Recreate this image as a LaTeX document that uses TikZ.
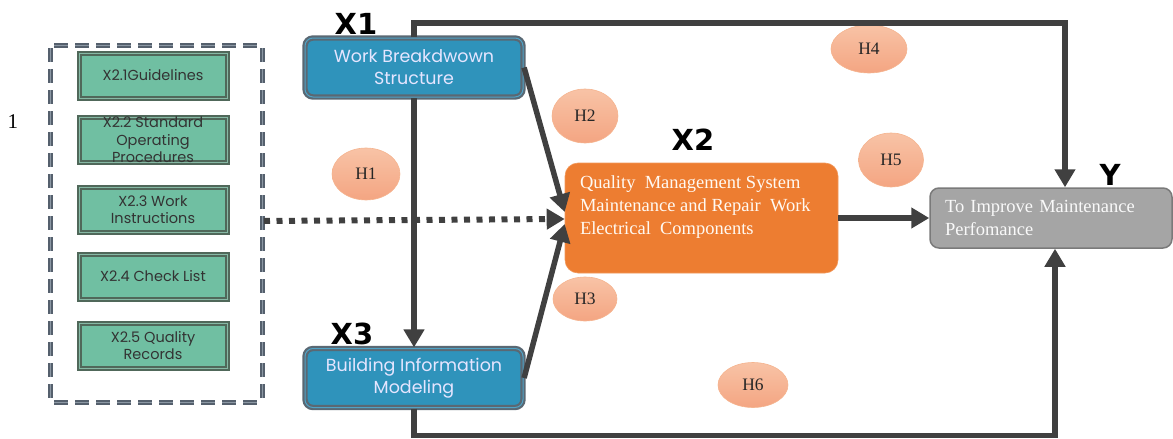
\documentclass[tikz,border=0pt]{standalone}
\usepackage{fontspec}
\setmainfont{Liberation Serif}
\newfontfamily\gothic{Poppins}
\newfontfamily\heavy{DejaVu Sans}
\usetikzlibrary{arrows.meta,calc,shapes.geometric}
\definecolor{grnfill}{HTML}{70BFA2}
\definecolor{grnborder}{HTML}{50685A}
\definecolor{grninner}{HTML}{86B9A5}
\definecolor{bluefill}{HTML}{2F93BB}
\definecolor{bluborder}{HTML}{5A6873}
\definecolor{blueinner}{HTML}{4FA3C6}
\definecolor{orangefill}{HTML}{ED7D31}
\definecolor{grayfill}{HTML}{A5A5A5}
\definecolor{grayborder}{HTML}{7A7A7A}
\definecolor{hyptop}{HTML}{F8C3A6}
\definecolor{hypbot}{HTML}{F4A582}
\definecolor{hypborder}{HTML}{F5B48F}
\definecolor{conncol}{HTML}{404040}
\definecolor{dashcol}{HTML}{55606D}
\definecolor{dashinner}{HTML}{8C98A4}
\begin{document}
\begin{tikzpicture}[x=1pt,y=-1pt,
  greenbox/.style={draw=grnborder, line width=2pt, double=grninner, double distance=1pt,
    fill=grnfill, minimum width=148pt, minimum height=45pt, inner sep=0pt, align=center,
    font=\gothic\fontsize{14.5}{17.5}\selectfont, text=black!80},
  bluebox/.style={draw=bluborder, line width=2.2pt, double=blueinner, double distance=1pt,
    fill=bluefill, rounded corners=8pt, minimum width=218pt, minimum height=59pt, inner sep=0pt,
    align=center, font=\gothic\fontsize{17.5}{22}\selectfont, text=white!90!blue},
  orangebox/.style={fill=orangefill, draw=orangefill!80!white, line width=0.6pt, rounded corners=13pt,
    inner xsep=15pt, inner ysep=7pt, text=white!95!orange, font=\fontsize{18.5}{23}\selectfont},
  graybox/.style={fill=grayfill, draw=grayborder, line width=1.5pt, rounded corners=9pt,
    minimum width=242pt, minimum height=60pt, inner xsep=15pt, text width=212pt, align=left,
    text=white!95!gray, font=\fontsize{18.5}{23}\selectfont},
  hyp/.style={ellipse, draw=hypborder, line width=0.6pt, top color=hyptop, bottom color=hypbot,
    inner sep=0pt, font=\fontsize{17.5}{18}\selectfont, text=black!85},
  tag/.style={font=\heavy\bfseries\fontsize{29}{29}\selectfont, inner sep=0pt},
  conn/.style={draw=conncol, line width=5.5pt, -{Triangle[length=18pt,width=20pt]}},
  dotconn/.style={draw=conncol, line width=6pt, dash pattern=on 6pt off 6.5pt,
    -{Triangle[length=18pt,width=20pt]}},
  dashbox/.style={draw=dashcol, line width=2pt, double=dashinner, double distance=1pt,
    dash pattern=on 14pt off 7pt, rounded corners=3pt}
]
\useasboundingbox (0,0) rectangle (1173,439);

% stray number
\node[font=\fontsize{21}{21}\selectfont, inner sep=0pt] (num) at (13,122) {1};

% dashed group
\draw[dashbox] (50,45) rectangle (262,402);
\coordinate (grpR) at (264,221);

% green boxes
\node[greenbox] (g1) at (153,75.5) {X2.1Guidelines};
\node[greenbox] (g2) at (153,140) {X2.2 Standard\\Operating\\Procedures};
\node[greenbox] (g3) at (153,209.5) {X2.3 Work\\Instructions};
\node[greenbox] (g4) at (153,276.5) {X2.4 Check List};
\node[greenbox] (g5) at (153,345.5) {X2.5 Quality\\Records};

% main boxes
\node[bluebox] (X1) at (414,67.5) {Work Breakdwown\\Structure};
\node[bluebox] (X3) at (414,378) {Building Information\\Modeling};
\node[orangebox] (X2) at (701.5,218) {\parbox[t][96pt][t]{243pt}{\vspace*{6pt}Quality\ \ Management System\\Maintenance and Repair\ \ Work\\Electrical\ \ Components}};
\node[graybox] (Y) at (1051,218) {To Improve Maintenance\\Perfomance};

% tags
\node[tag] (tX1) at (356,24) {X1};
\node[tag] (tX3) at (352,334) {X3};
\node[tag] (tX2) at (693,140) {X2};
\node[tag] (tY) at (1110,175) {Y};

% hypotheses
\node[hyp, minimum width=68pt, minimum height=52pt] (H1) at (366,174) {H1};
\node[hyp, minimum width=66pt, minimum height=54pt] (H2) at (585,116) {H2};
\node[hyp, minimum width=64pt, minimum height=44pt] (H3) at (585,299) {H3};
\node[hyp, minimum width=76pt, minimum height=48pt] (H4) at (869,49) {H4};
\node[hyp, minimum width=65pt, minimum height=54pt] (H5) at (891,160) {H5};
\node[hyp, minimum width=70pt, minimum height=45pt] (H6) at (753,385) {H6};

% connectors
\draw[conn] (X1.south) -- (X3.north);
\draw[conn] (X1.north) -- ++(0,-14) -| (Y.north -| 1065,0);
\draw[conn] (X3.south) -- ++(0,27) -| (Y.south -| 1055,0);
\draw[conn] (X1.east) -- ($(X2.west)+(0,-6)$);
\draw[conn] (X3.east) -- ($(X2.west)+(0,6)$);
\draw[dotconn] (grpR) -- ($(X2.west)+(0,1)$);
\draw[conn] (X2.east) -- (Y.west);
\end{tikzpicture}
\end{document}
